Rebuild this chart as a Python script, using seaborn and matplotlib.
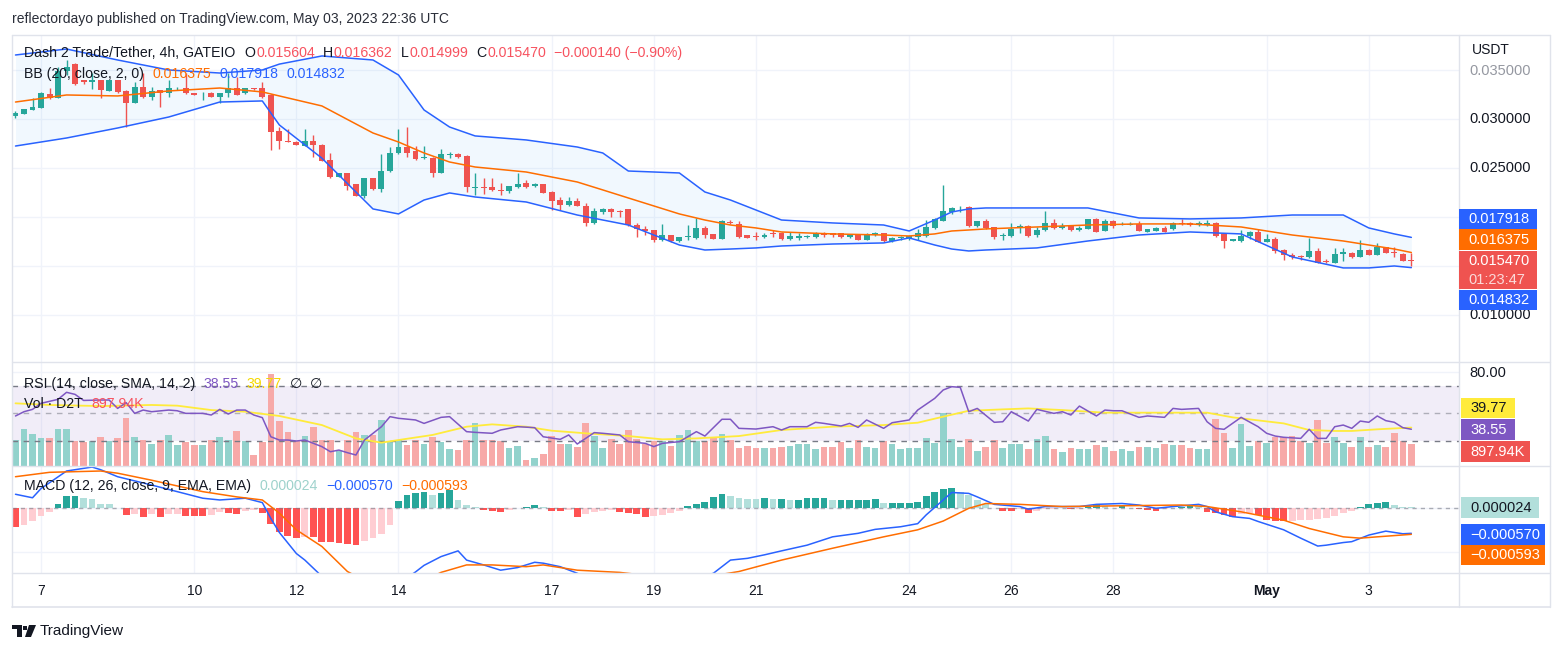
import numpy as np
import seaborn as sns
import matplotlib.pyplot as plt
from matplotlib.patches import Rectangle, Polygon
from matplotlib.lines import Line2D

# D2T/USDT 4h candles, index 0 = Apr 6 12:00 UTC, prices in 0.001 USDT
opens = [30.3, 30.55, 30.95, 31.16, 32.55, 32.18, 34.9, 35.61, 33.98, 33.8,
         33.98, 32.9, 33.98, 32.89, 31.67, 33.23, 32.21, 32.96, 32.62, 33.13,
         33.13, 32.62, 32.5, 32.69, 32.28, 32.62, 33.13, 32.62, 33.13, 33.13,
         32.45, 28.78, 27.79, 27.69, 27.24, 27.79, 27.35, 25.82, 24.11, 24.45,
         23.35, 22.14, 23.94, 22.86, 24.73, 26.5, 27.11, 26.73, 25.99, 26.05,
         24.52, 26.33, 26.43, 26.22, 23.0, 23.1, 23.07, 22.73, 22.6, 23.07,
         23.43, 23.13, 23.33, 22.57, 21.77, 21.27, 21.67, 21.17, 19.4, 20.5,
         20.77, 20.6, 20.77, 19.17, 18.8, 18.67, 17.6, 18.17, 17.5, 17.93,
         17.83, 18.83, 18.27, 17.77, 19.5, 19.33, 18.17, 18.0, 17.97, 18.4,
         18.4, 17.73, 17.83, 17.93, 17.93, 18.33, 18.33, 18.33, 17.93, 18.17,
         17.67, 18.17, 18.33, 17.5, 17.85, 17.85, 17.93, 18.07, 18.83, 19.6,
         20.5, 20.87, 21.0, 19.1, 19.63, 18.95, 18.07, 18.07, 18.85, 19.09,
         18.17, 18.68, 19.36, 18.85, 19.19, 18.68, 18.78, 19.77, 18.6, 19.63,
         19.2, 19.2, 19.29, 18.51, 18.61, 18.92, 18.75, 19.43, 19.43, 19.19,
         19.19, 19.43, 18.27, 17.59, 17.59, 18.07, 18.51, 17.49, 17.76, 16.64,
         16.13, 16.0, 15.89, 16.54, 15.47, 15.34, 16.23, 16.37, 15.96, 16.64,
         16.13, 16.91, 16.47, 16.23, 15.604]
highs = [30.8, 31.05, 32.1, 32.8, 33.2, 35.3, 36.0, 35.7, 34.0, 34.66,
         34.0, 34.0, 34.0, 32.95, 33.74, 34.66, 33.3, 33.0, 33.98, 33.3,
         34.66, 32.7, 32.79, 32.75, 32.7, 34.66, 34.3, 33.2, 33.2, 33.81,
         32.5, 29.2, 28.94, 27.75, 28.94, 28.37, 27.4, 26.5, 24.5, 24.5,
         23.4, 24.0, 24.0, 26.43, 27.11, 28.94, 29.2, 27.24, 27.24, 26.1,
         26.9, 26.67, 26.5, 26.3, 24.5, 24.0, 24.0, 23.5, 23.2, 24.5,
         23.73, 23.5, 23.4, 22.6, 22.0, 22.0, 21.9, 21.4, 20.93, 20.93,
         20.93, 20.73, 20.8, 19.4, 19.07, 18.7, 19.27, 18.2, 18.0, 19.17,
         19.93, 19.07, 18.3, 19.67, 19.73, 19.57, 18.2, 18.5, 18.4, 18.67,
         18.45, 18.5, 18.33, 18.2, 18.45, 18.5, 18.4, 18.4, 18.2, 18.2,
         18.35, 18.45, 18.35, 17.95, 18.07, 18.2, 18.73, 19.67, 19.85, 23.27,
         21.0, 21.17, 21.1, 19.6, 19.8, 19.0, 18.34, 19.43, 19.29, 19.19,
         19.02, 20.62, 19.8, 19.36, 19.2, 19.1, 19.8, 19.87, 19.8, 19.7,
         19.53, 19.53, 19.6, 18.8, 18.95, 19.09, 19.5, 19.77, 19.5, 19.63,
         19.7, 19.5, 18.3, 17.8, 18.68, 18.55, 18.75, 18.27, 17.93, 16.7,
         16.37, 16.13, 17.83, 16.81, 15.68, 16.81, 16.81, 16.4, 17.66, 16.7,
         17.32, 16.98, 16.98, 16.3, 16.362]
lows = [30.15, 30.5, 30.9, 31.1, 32.05, 32.1, 34.5, 33.5, 33.6, 33.1,
        32.11, 32.85, 32.7, 29.2, 31.6, 32.15, 31.94, 31.26, 32.28, 32.96,
        32.5, 32.4, 31.94, 32.2, 31.6, 32.28, 32.4, 32.5, 33.0, 32.1,
        26.84, 26.9, 27.6, 27.3, 27.2, 26.16, 25.7, 23.94, 24.05, 22.75,
        22.1, 21.9, 22.8, 22.58, 24.62, 26.45, 26.1, 25.85, 25.9, 24.11,
        24.45, 25.99, 26.0, 22.58, 22.2, 22.3, 22.67, 22.2, 22.4, 23.0,
        23.0, 23.1, 22.4, 20.67, 20.73, 21.17, 21.1, 19.1, 19.3, 20.27,
        20.0, 20.0, 19.1, 18.0, 18.17, 17.4, 17.5, 17.4, 17.45, 17.67,
        17.77, 17.83, 17.73, 17.73, 19.3, 17.83, 17.85, 17.6, 17.9, 18.0,
        17.65, 17.6, 17.6, 17.85, 17.9, 17.93, 17.93, 17.85, 17.9, 17.6,
        17.6, 18.1, 17.45, 17.45, 17.6, 17.67, 17.67, 18.0, 18.8, 19.55,
        20.33, 20.5, 19.0, 19.0, 18.8, 17.73, 17.6, 17.93, 18.34, 18.0,
        17.93, 18.6, 18.75, 18.8, 18.55, 18.55, 18.75, 18.45, 18.55, 18.85,
        19.19, 19.19, 18.55, 18.45, 18.55, 18.45, 18.7, 19.2, 19.12, 19.12,
        19.12, 18.0, 16.88, 17.5, 17.49, 17.73, 17.4, 17.4, 16.3, 15.62,
        15.68, 15.62, 15.79, 15.3, 15.28, 15.3, 15.55, 15.8, 15.9, 16.07,
        16.07, 16.3, 15.89, 15.5, 14.999]
closes = [30.65, 31.0, 31.26, 32.7, 32.11, 34.93, 35.3, 33.57, 33.81, 33.95,
          32.96, 33.98, 32.79, 31.67, 33.23, 32.21, 32.89, 32.62, 33.13, 33.2,
          32.62, 32.45, 32.55, 32.28, 32.69, 33.13, 32.45, 33.13, 33.03, 32.21,
          28.71, 27.79, 27.69, 27.35, 27.79, 27.35, 25.75, 24.11, 24.45, 23.16,
          22.14, 23.94, 22.86, 24.73, 26.5, 27.18, 26.56, 25.92, 26.09, 24.52,
          26.43, 26.43, 26.09, 23.09, 23.1, 22.95, 22.73, 22.6, 23.17, 23.33,
          23.1, 23.37, 22.47, 21.67, 21.23, 21.67, 21.17, 19.4, 20.57, 20.77,
          20.5, 20.5, 19.17, 18.73, 18.6, 17.6, 18.17, 17.5, 17.93, 17.97,
          18.83, 18.17, 17.77, 19.6, 19.4, 17.93, 17.9, 17.93, 18.17, 18.3,
          17.73, 18.07, 18.07, 18.07, 18.4, 18.17, 18.17, 17.93, 18.17, 17.67,
          18.17, 18.33, 17.5, 17.9, 17.9, 18.1, 18.33, 18.93, 19.77, 20.57,
          20.9, 20.9, 19.1, 19.6, 18.85, 18.0, 18.17, 18.75, 19.09, 18.07,
          18.68, 19.43, 18.85, 19.09, 18.68, 18.92, 19.77, 18.51, 19.63, 19.09,
          19.29, 19.29, 18.61, 18.75, 18.92, 18.51, 19.43, 19.29, 19.19, 19.43,
          19.43, 18.1, 17.59, 17.73, 18.07, 18.51, 17.49, 17.76, 16.57, 16.13,
          15.96, 15.96, 16.54, 15.34, 15.42, 16.23, 16.47, 15.89, 16.64, 16.13,
          16.91, 16.37, 16.37, 15.55, 15.470]

# volume in thousands of D2T
volume_k = [1066, 1517, 1312, 1148, 1148, 1517, 1517, 1025, 984, 1025,
            1189, 1025, 1148, 1968, 1189, 1066, 902, 1066, 1271, 861,
            984, 861, 861, 1066, 1189, 1066, 1435, 1025, 451, 984,
            3772, 1845, 1394, 1025, 1230, 1599, 1066, 1066, 615, 1066,
            1394, 1271, 1271, 1886, 1025, 1066, 861, 1066, 902, 1189,
            984, 697, 656, 1066, 1763, 1066, 1066, 1025, 738, 820,
            246, 328, 492, 1230, 902, 902, 779, 1763, 1230, 738,
            1107, 902, 1476, 1107, 902, 1025, 1025, 820, 1271, 1476,
            1025, 1025, 1189, 1312, 1066, 738, 820, 738, 738, 738,
            779, 820, 902, 902, 697, 779, 779, 984, 738, 1066,
            779, 738, 1025, 902, 697, 738, 738, 1148, 943, 2173,
            1107, 779, 1107, 615, 779, 1066, 738, 902, 902, 697,
            1107, 1230, 697, 574, 738, 697, 697, 861, 779, 615,
            697, 615, 779, 779, 738, 902, 861, 861, 738, 697,
            697, 1927, 1353, 738, 1722, 820, 1025, 943, 1189, 1189,
            1230, 1025, 943, 1886, 943, 1189, 943, 779, 1189, 779,
            861, 779, 1353, 1025, 897.94]

# Bollinger bands (20, 2) read at these candles
bb_idx = [0, 6, 12, 18, 24, 29, 31, 36, 42, 45, 48, 51, 54, 60, 66, 69, 72, 78, 81, 84,
          87, 90, 96, 102, 105, 108, 110, 112, 114, 120, 126, 132, 138, 144, 150, 156, 159, 162, 164]
bb_upper = [36.53, 37.14, 36.02, 35.0, 34.69, 35.0, 35.6, 36.43, 36.02, 34.49,
            30.92, 29.18, 28.27, 27.86, 27.14, 26.53, 24.69, 24.49, 22.55, 21.73,
            20.71, 19.69, 19.39, 19.18, 18.57, 19.69, 20.51, 20.82, 20.92, 20.92,
            20.92, 19.9, 19.8, 19.9, 20.2, 20.2, 18.88, 18.27, 17.918]
bb_mid = [31.73, 32.45, 32.35, 32.86, 33.16, 32.76, 32.35, 31.33, 28.57, 27.65,
          26.53, 25.61, 25.1, 24.59, 23.57, 22.76, 21.94, 20.31, 19.69, 19.18,
          18.88, 18.47, 18.27, 18.16, 18.06, 18.27, 18.57, 18.67, 18.78, 18.98,
          19.18, 19.29, 19.29, 18.98, 18.16, 17.55, 17.14, 16.73, 16.375]
bb_lower = [27.24, 28.06, 29.08, 30.2, 31.73, 31.84, 29.39, 26.0, 20.82, 20.31,
            21.73, 22.45, 22.04, 21.53, 20.2, 19.69, 19.18, 17.14, 16.63, 16.73,
            16.84, 17.04, 17.24, 17.35, 17.86, 17.14, 16.73, 16.53, 16.63, 16.84,
            17.55, 18.16, 18.47, 18.27, 15.92, 14.8, 14.8, 15.0, 14.832]

# RSI (14) and its SMA (14)
rsi_idx = [0, 1, 2, 3, 5, 6, 7, 8, 10, 11, 12, 13, 14, 15, 16, 18, 19, 20, 22, 23,
           24, 25, 26, 27, 28, 29, 30, 31, 32, 33, 34, 36, 37, 38, 39, 40, 41, 43, 44, 45,
           47, 48, 50, 51, 53, 54, 56, 57, 59, 61, 62, 64, 65, 66, 68, 69, 71, 72, 74, 75,
           76, 78, 80, 81, 83, 84, 85, 87, 89, 90, 91, 93, 94, 95, 97, 98, 99, 100, 102, 103,
           105, 106, 108, 109, 110, 111, 112, 113, 115, 116, 117, 119, 120, 122, 123, 124, 125, 127, 128, 129,
           130, 132, 133, 135, 136, 137, 139, 140, 141, 142, 144, 146, 147, 148, 149, 151, 152, 153, 154, 155,
           156, 157, 158, 159, 160, 161, 162, 163, 164]
rsi_val = [48.2, 51.3, 53.0, 57.4, 60.3, 65.4, 63.9, 59.5, 59.8, 59.8, 53.7, 57.9, 50.1, 52.5, 51.3, 52.5, 52.0, 50.1, 50.1, 48.9,
           53.0, 49.6, 52.5, 52.5, 48.9, 47.0, 33.1, 30.7, 30.7, 30.0, 30.7, 25.9, 22.2, 23.4, 21.5, 19.8, 30.7, 40.4, 47.7, 46.5,
           45.3, 42.8, 47.2, 47.7, 36.8, 36.3, 35.6, 38.0, 40.4, 39.7, 33.1, 31.2, 34.4, 27.8, 36.1, 35.6, 34.4, 29.5, 28.3, 25.9,
           28.3, 29.5, 36.8, 33.6, 45.8, 45.8, 39.2, 38.7, 40.4, 38.0, 40.4, 40.4, 43.6, 42.8, 40.9, 42.8, 39.9, 45.3, 39.2, 43.3,
           45.3, 52.5, 61.0, 67.1, 69.5, 69.0, 51.3, 53.7, 43.6, 44.0, 51.3, 44.5, 53.0, 50.1, 51.3, 48.9, 55.4, 48.2, 52.5, 52.0,
           52.0, 47.2, 48.2, 47.2, 53.7, 53.0, 53.7, 44.0, 39.2, 38.5, 47.2, 40.4, 35.6, 33.6, 32.7, 31.9, 38.5, 31.9, 31.9, 40.4,
           41.6, 39.2, 44.5, 43.6, 48.2, 44.8, 43.6, 39.7, 38.55]
rsi_sma_idx = [0, 4, 10, 16, 19, 23, 27, 31, 36, 40, 43, 45, 49, 53, 56, 60, 63, 67, 72, 76,
               80, 85, 90, 96, 102, 106, 109, 112, 116, 119, 123, 128, 134, 140, 143, 149, 152, 155, 157, 160, 164]
rsi_sma_val = [57.4, 56.2, 55.4, 56.2, 55.7, 52.5, 51.3, 48.2, 41.6, 31.9, 28.8, 30.7, 34.4, 40.4, 42.1, 40.4, 37.5, 35.6, 33.6, 31.2,
               31.9, 33.6, 38.0, 40.4, 41.6, 43.3, 47.7, 52.0, 53.0, 53.7, 52.5, 50.6, 50.6, 50.6, 47.2, 42.8, 38.0, 37.3, 37.3, 38.5, 39.77]

# MACD (12, 26, 9), values in 1e-4 USDT
macd_idx = [0, 2, 3, 6, 9, 10, 12, 16, 19, 22, 24, 27, 29, 30, 31, 33, 34, 36, 39, 42,
            44, 47, 48, 50, 52, 53, 55, 57, 59, 61, 62, 64, 66, 68, 72, 76, 80, 82, 84, 86,
            88, 90, 93, 96, 99, 101, 104, 106, 107, 109, 110, 112, 113, 115, 118, 119, 121, 125, 127, 130,
            132, 134, 136, 139, 140, 141, 143, 145, 146, 149, 151, 153, 154, 156, 157, 159, 161, 163, 164]
macd_val = [3.2, 2.4, 4.5, 8.5, 9.4, 8.8, 7.2, 5.3, 3.8, 2.3, 1.9, 2.3, 1.3, -2.3, -5.5, -10.3, -11.8, -15.5, -20, -21,
            -18.5, -14.5, -13, -11, -9.7, -11.8, -12.9, -14.1, -13.5, -12.3, -12.5, -13.3, -14.8, -16.5, -17.5, -17.5, -16, -14.8, -11.8, -11.4,
            -10.6, -9.7, -8.4, -6.5, -5.7, -4.8, -4.2, -3.5, -1.5, 1.9, 3.6, 3.4, 2.6, 0.9, 0.4, -0.2, 0.4, 0.4, 0.9, 1.1,
            0.75, 0, 0.4, 0.9, 0.4, -0.8, -1.9, -2.3, -3.0, -4.9, -6.8, -8.6, -8.4, -7.8, -7.6, -6.1, -5.2, -5.8, -5.70]
signal_idx = [0, 4, 10, 12, 16, 22, 26, 29, 31, 33, 36, 39, 42, 45, 48, 50, 53, 56, 60, 62,
              66, 71, 75, 80, 85, 90, 96, 102, 106, 109, 112, 114, 118, 123, 131, 137, 140, 144, 149, 152,
              156, 158, 160, 164]
signal_val = [7.2, 8.2, 8.5, 8.0, 6.4, 3.8, 2.6, 1.9, -1.1, -4.9, -8.7, -14.4, -17.5, -18.5, -16.5, -14.6, -12.9, -12.9, -13.3, -12.9,
              -14.1, -14.6, -15.5, -16, -14.4, -11.8, -9.1, -6.5, -4.9, -2.9, 0, 1.1, 0.9, 0.4, 0.6, 0.75, 0.4, -0.8, -2.7, -4.6,
              -6.5, -6.8, -6.5, -5.93]
hist_val = [-4.2, -3.8, -3.0, -1.7, -0.8, 0.9, 2.7, 2.8, 2.3, 2.1,
            1.0, 0.9, 0.1, -1.5, -1.4, -1.9, -1.4, -1.9, -1.4, -1.35,
            -1.7, -1.75, -1.8, -1.5, -0.9, -1.1, -1.2, -0.6, -0.4, -1.0,
            -3.6, -5.5, -6.3, -6.8, -6.5, -6.6, -7.7, -7.75, -7.8, -8.2,
            -8.4, -7.4, -6.7, -5.9, -3.8, 1.7, 3.0, 3.6, 3.8, 3.0,
            3.4, 4.2, 1.9, 0.8, 0.2, -0.4, -0.6, -0.8, -0.4, 0.15,
            0.4, 0.8, 0.4, -0.5, -0.55, -0.4, -1.9, -1.4, -0.9, -0.6,
            -0.3, -0.8, -1.0, -1.4, -1.9, -1.7, -1.5, -1.1, -0.5, 0.5,
            1.0, 1.4, 2.5, 3.2, 2.7, 2.3, 2.1, 2.05, 2.4, 2.1,
            2.1, 2.0, 2.0, 2.3, 2.3, 2.3, 1.9, 1.9, 1.9, 1.9,
            2.0, 2.1, 1.3, 1.3, 1.3, 1.3, 1.4, 2.7, 3.8, 4.4,
            4.7, 3.8, 3.0, 1.9, 0.9, 0.15, -0.5, -0.55, -0.25, -1.0,
            -0.5, -0.25, -0.05, 0.15, -0.25, -0.1, 0.4, 0.8, 0.6, 0.15,
            0.6, 0.15, -0.25, -0.4, -0.6, -0.25, 0.15, 0.4, 0.6, 0.5,
            -0.8, -1.1, -1.5, -1.9, -1.4, -1.1, -1.5, -2.7, -2.9, -3.0,
            -2.9, -2.7, -2.6, -2.5, -2.3, -1.7, -1.1, -0.6, 0.3, 1.0,
            1.3, 1.35, 0.8, 0.4, 0.24]

tick_idx = [3, 21, 33, 45, 63, 75, 87, 105, 117, 129, 147, 159]
tick_lbl = ['7', '10', '12', '14', '17', '19', '21', '24', '26', '28', 'May', '3']
price_ticks = [10, 15, 20, 25, 30, 35]
price_labels_shown = [10, 25, 30]  # 0.015 and 0.020 sit under the badges

sns.set_style("white")
plt.rcParams['font.family'] = ['Liberation Sans', 'DejaVu Sans']

W, H = 1562, 652
fig = plt.figure(figsize=(W / 100, H / 100), dpi=100)
fig.patch.set_facecolor('white')


def px_rect(x0, y0, x1, y1):
    return [x0 / W, 1 - y1 / H, (x1 - x0) / W, (y1 - y0) / H]


X0, X1 = 12, 1459
ax_p = fig.add_axes(px_rect(X0, 35, X1, 362))
ax_v = fig.add_axes(px_rect(X0, 362, X1, 466))
ax_r = fig.add_axes(px_rect(X0, 362, X1, 466))
ax_m = fig.add_axes(px_rect(X0, 466, X1, 573))
XLIM = (-0.41, 169.6)
GRID = '#f0f3fa'

idx = np.arange(len(closes))
o, h, l, c = map(np.array, (opens, highs, lows, closes))
up = c >= o
candle_col = np.where(up, '#26A69A', '#EF5350')

# price pane
ax_p.fill_between(bb_idx, bb_lower, bb_upper, color='#2196F3', alpha=0.06, lw=0, zorder=1)
ax_p.vlines(idx, l, h, colors=candle_col, linewidth=1, zorder=3)
ax_p.bar(idx, np.maximum(np.abs(c - o), 0.08), bottom=np.minimum(o, c), width=0.7,
         color=candle_col, linewidth=0, zorder=4)
sns.lineplot(x=bb_idx, y=bb_upper, ax=ax_p, color='#2962FF', linewidth=1.1, zorder=5)
sns.lineplot(x=bb_idx, y=bb_lower, ax=ax_p, color='#2962FF', linewidth=1.1, zorder=5)
sns.lineplot(x=bb_idx, y=bb_mid, ax=ax_p, color='#FF6D00', linewidth=1.1, zorder=5)
ax_p.set_ylim(5.2, 38.57)
ax_p.set_yticks(price_ticks)

# volume + rsi pane
vol_col = np.where(up, '#92D2CC', '#F7A9A8')
ax_v.add_patch(Rectangle((XLIM[0], 30), XLIM[1] - XLIM[0], 40, transform=ax_r.transData,
                         facecolor='#7E57C2', alpha=0.1, lw=0, zorder=1))
ax_v.bar(idx, volume_k, width=0.78, color=vol_col, linewidth=0, zorder=2)
ax_v.set_ylim(0, 4264)
ax_v.set_yticks([])
ax_r.patch.set_visible(False)
for lvl, a in ((70, 1.0), (50, 0.55), (30, 1.0)):
    ax_r.axhline(lvl, color='#787B86', alpha=a, lw=1, ls=(0, (4, 4)), zorder=2)
sns.lineplot(x=rsi_sma_idx, y=rsi_sma_val, ax=ax_r, color='#FFEB3B', linewidth=1.3, zorder=3)
sns.lineplot(x=rsi_idx, y=rsi_val, ax=ax_r, color='#7E57C2', linewidth=1.1, zorder=4)
ax_r.set_ylim(11.82, 87.45)
ax_r.set_yticks([80])

# macd pane
hist = np.array(hist_val)
prev = np.r_[hist[0], hist[:-1]]
hist_col = np.where(hist >= 0, np.where(hist >= prev, '#26A69A', '#B2DFDB'),
                    np.where(hist > prev, '#FFCDD2', '#FF5252'))
ax_m.bar(idx, hist, width=0.8, color=hist_col, linewidth=0, zorder=2)
ax_m.axhline(0, color='#787B86', alpha=0.6, lw=1, ls=(0, (3, 3)), zorder=3)
sns.lineplot(x=macd_idx, y=macd_val, ax=ax_m, color='#2962FF', linewidth=1.1, zorder=4)
sns.lineplot(x=signal_idx, y=signal_val, ax=ax_m, color='#FF6D00', linewidth=1.1, zorder=4)
ax_m.set_ylim(-14.74, 9.64)
ax_m.set_yticks([-10, 0])

for ax in (ax_p, ax_v, ax_r, ax_m):
    ax.set_xlim(*XLIM)
    ax.set_xticks(tick_idx)
    ax.set_xlabel('')
    ax.set_ylabel('')
    for s in ax.spines.values():
        s.set_visible(False)
    ax.tick_params(length=0, labelbottom=False, labelleft=False)
ax_p.grid(True, color=GRID, lw=1)
ax_v.grid(True, axis='x', color=GRID, lw=1)
ax_r.grid(True, axis='y', color=GRID, lw=1)
ax_r.grid(False, axis='x')
ax_m.grid(True, color=GRID, lw=1)
ax_p.set_axisbelow(True)
ax_m.set_axisbelow(True)
ax_m.set_xticklabels(tick_lbl)
ax_m.tick_params(axis='x', labelbottom=True, pad=8, labelsize=10, labelcolor='#131722')
for t in ax_m.get_xticklabels():
    if t.get_text() == 'May':
        t.set_fontweight('bold')

# frame lines
BORDER = '#e0e3eb'
for yy in (35, 362, 466, 573, 607):
    fig.add_artist(Line2D([12 / W, 1550 / W], [1 - yy / H] * 2, color=BORDER, lw=1.2 if yy == 607 else 1))
for xx in (12, 1459, 1550):
    fig.add_artist(Line2D([xx / W] * 2, [1 - 35 / H, 1 - 607 / H], color=BORDER, lw=1))

renderer = fig.canvas.get_renderer()


def ftext(x, y, s, color='#131722', size=10, **kw):
    return fig.text(x / W, 1 - y / H, s, color=color, fontsize=size, va='center', ha='left', **kw)


def legend_row(x, y, parts, size=10.2):
    for s, col, gap in parts:
        t = ftext(x, y, s, col, size, zorder=6)
        x += t.get_window_extent(renderer=renderer).width + gap


DARK = '#131722'
RED = '#F7525F'
legend_row(24, 53, [('Dash 2 Trade/Tether, 4h, GATEIO', DARK, 9), ('O', DARK, 1), ('0.015604', RED, 8),
                    ('H', DARK, 1), ('0.016362', RED, 8), ('L', DARK, 1), ('0.014999', RED, 8),
                    ('C', DARK, 1), ('0.015470', RED, 8), ('\u22120.000140 (\u22120.90%)', RED, 0)])
legend_row(24, 74, [('BB (20, close, 2, 0)', DARK, 9), ('0.016375', '#FF6D00', 8),
                    ('0.017918', '#2962FF', 8), ('0.014832', '#2962FF', 0)])
legend_row(24, 384, [('RSI (14, close, SMA, 14, 2)', DARK, 8), ('38.55', '#7E57C2', 8),
                     ('39.77', '#F5D800', 8), ('\u2205', DARK, 8), ('\u2205', DARK, 0)])
legend_row(24, 404, [('Vol \u00b7 D2T', DARK, 8), ('897.94K', RED, 0)])
legend_row(24, 486, [('MACD (12, 26, close, 9, EMA, EMA)', DARK, 9), ('0.000024', '#9ED2CC', 8),
                     ('\u22120.000570', '#2962FF', 8), ('\u22120.000593', '#FF6D00', 0)])

# right scale
ftext(1472, 50, 'USDT', DARK, 10)
ftext(1469, 71, '0.035000', '#9598A1', 10.5)
for v in price_labels_shown:
    ftext(1469, 70 + (35 - v) * 9.8, f'{v / 1000:.6f}', DARK, 10.5)
ftext(1469, 373, '80.00', DARK, 10.5)


def badge(x0, y0, x1, y1, face, rows, size=10.5):
    fig.add_artist(Rectangle((x0 / W, 1 - y1 / H), (x1 - x0) / W, (y1 - y0) / H,
                             transform=fig.transFigure, facecolor=face, edgecolor='none', zorder=4))
    for s, yy, col in rows:
        ftext(x0 + 9, yy, s, col, size, zorder=5)


badge(1459, 209, 1537, 229, '#2962FF', [('0.017918', 219, 'white')])
badge(1459, 229, 1537, 250, '#FF6D00', [('0.016375', 240, 'white')])
badge(1459, 251, 1537, 289, '#EF5350', [('0.015470', 260.5, 'white'), ('01:23:47', 279.5, '#FBDADA')])
badge(1459, 290, 1537, 310, '#2962FF', [('0.014832', 300, 'white')])
badge(1461, 398, 1515, 418, '#FFEB3B', [('39.77', 408, DARK)])
badge(1461, 419, 1515, 440, '#7E57C2', [('38.55', 430, 'white')])
badge(1461, 441, 1530, 462, '#EF5350', [('897.94K', 452, 'white')])
badge(1461, 497, 1539, 518, '#B2DFDB', [('0.000024', 508, DARK)])
badge(1461, 524, 1545, 545, '#2962FF', [('\u22120.000570', 535, 'white')])
badge(1461, 545, 1545, 565, '#FF6D00', [('\u22120.000593', 555, 'white')])

# header and footer
ftext(12, 19, 'reflectordayo published on TradingView.com, May 03, 2023 22:36 UTC', '#2A2E39', 10)


def P(x, y):
    return (x / W, 1 - y / H)


LOGO = '#131722'
fig.add_artist(Polygon([P(12, 625), P(22, 625), P(22, 637), P(17, 637), P(17, 629), P(12, 629)],
                       closed=True, transform=fig.transFigure, facecolor=LOGO, edgecolor='none'))
fig.add_artist(Polygon([P(29, 625), P(36, 625), P(31, 637), P(25, 637)],
                       closed=True, transform=fig.transFigure, facecolor=LOGO, edgecolor='none'))
fig.add_artist(Rectangle(P(23, 629.5), 3.5 / W, 4 / H, transform=fig.transFigure,
                         facecolor=LOGO, edgecolor='none'))
ftext(40, 631, 'TradingView', '#131722', 11)

fig.savefig('out.png', dpi=100, facecolor='white')
